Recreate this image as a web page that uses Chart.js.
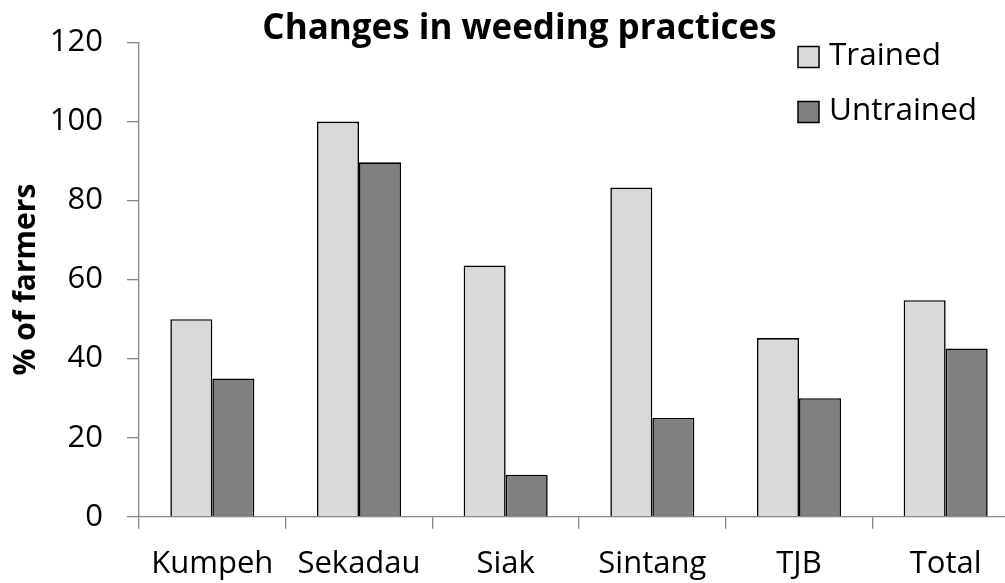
<!DOCTYPE html>
<html>
<head>
<meta charset="utf-8">
<script src="https://cdn.jsdelivr.net/npm/chart.js@4"></script>
<style>
  html, body { margin: 0; padding: 0; background: #fff; overflow: hidden; }
  #wrap { width: 1038px; height: 583px; }
</style>
</head>
<body>
<div id="wrap"><canvas id="weedingChart" width="1038" height="583"></canvas></div>
<script>
var districts = ["Kumpeh", "Sekadau", "Siak", "Sintang", "TJB", "Total"];
var trained = [50, 100, 63.6, 83.3, 45.2, 54.8];
var untrained = [35, 89.7, 10.6, 25, 30, 42.6];
var yTicks = [0, 20, 40, 60, 80, 100, 120];
var chartTitle = 'Changes in weeding practices';

var FONT = "'Open Sans', 'Liberation Sans', sans-serif";

// title and legend drawn by hand: Excel centres the title on the whole
// chart and puts the legend inside the plot at the top right
var excelBits = {
  id: 'excelBits',
  afterDraw: function(chart) {
    var c = chart.ctx;
    c.save();
    c.fillStyle = '#000';
    c.font = "bold 35px " + FONT;
    c.textAlign = 'center';
    c.textBaseline = 'alphabetic';
    c.fillText(chartTitle, 519.5, 39);

    c.font = "31.5px " + FONT;
    c.textAlign = 'left';
    c.textBaseline = 'middle';
    chart.data.datasets.forEach(function(ds, i) {
      var y = 57 + i * 55;
      c.fillStyle = ds.backgroundColor;
      c.fillRect(798, y - 10.5, 21, 21);
      c.lineWidth = 1.5;
      c.strokeStyle = '#000';
      c.strokeRect(798, y - 10.5, 21, 21);
      c.fillStyle = '#000';
      c.fillText(ds.label, 829, y - 1);
    });
    c.restore();
  }
};

var ctx = document.getElementById('weedingChart').getContext('2d');
var myChart = new Chart(ctx, {
  type: 'bar',
  data: {
    labels: districts,
    datasets: [
      {
        label: 'Trained',
        data: trained,
        backgroundColor: '#d9d9d9',
        borderColor: '#000',
        borderWidth: 1.6
      },
      {
        label: 'Untrained',
        data: untrained,
        backgroundColor: '#808080',
        borderColor: '#000',
        borderWidth: 1.6
      }
    ]
  },
  plugins: [excelBits],
  options: {
    responsive: false,
    animation: false,
    devicePixelRatio: 1,
    layout: { padding: { left: 8, right: 19, top: 41.7, bottom: 0 } },
    datasets: {
      bar: { barPercentage: 1, categoryPercentage: 0.573 }
    },
    plugins: {
      legend: { display: false },
      tooltip: { enabled: false },
      title: { display: false }
    },
    scales: {
      x: {
        afterFit: function(scale) { scale.height = 66.3; },
        grid: {
          display: true,
          drawOnChartArea: false,
          offset: true,
          tickLength: 12,
          color: '#868686',
          lineWidth: 1.3
        },
        border: { color: '#868686', width: 1.3 },
        ticks: {
          color: '#000',
          padding: 17,
          font: { family: FONT, size: 31 }
        }
      },
      y: {
        min: 0,
        max: 120,
        afterBuildTicks: function(scale) {
          scale.ticks = yTicks.map(function(v) { return { value: v }; });
        },
        afterFit: function(scale) { scale.width = 131; },
        grid: {
          display: true,
          drawOnChartArea: false,
          tickLength: 12,
          color: '#868686',
          lineWidth: 1.3
        },
        border: { color: '#868686', width: 1.3 },
        ticks: {
          color: '#000',
          padding: 24,
          font: { family: FONT, size: 31 }
        },
        title: {
          display: true,
          text: '% of farmers',
          color: '#000',
          font: { family: FONT, size: 30, weight: 'bold' },
          padding: 0
        }
      }
    }
  }
});
</script>
</body>
</html>
